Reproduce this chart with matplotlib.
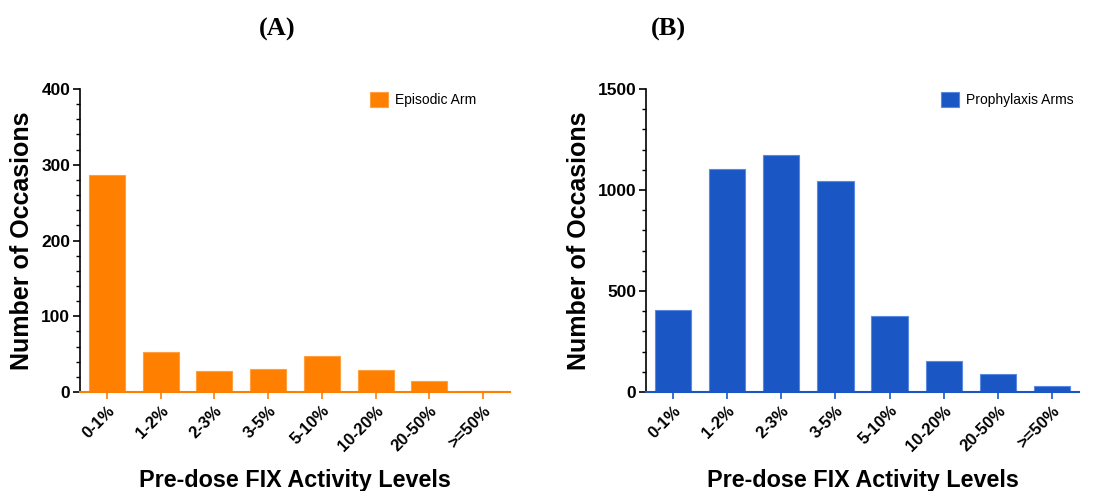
import matplotlib.pyplot as plt
import numpy as np
from matplotlib.ticker import MultipleLocator

plt.rcParams["font.family"] = ["Liberation Sans", "DejaVu Sans"]

# data
levels = ["0-1%", "1-2%", "2-3%", "3-5%", "5-10%", "10-20%", "20-50%", ">=50%"]
episodic = [287, 53, 28, 31, 48, 29, 15, 1.5]
prophylaxis = [407, 1104, 1172, 1046, 378, 153, 88, 31]

fig = plt.figure(figsize=(10.97, 4.91), dpi=100)

panels = [
    # rect, values, color, edge, label, ymax, major, minor, title, title x, legend x
    ([0.0729, 0.2016, 0.392, 0.6171], episodic, "#FF8000", "#FFA040",
     "Episodic Arm", 400, 100, 20, "(A)", 0.253, 0.935),
    ([0.5889, 0.2016, 0.3947, 0.6171], prophylaxis, "#1A57C4", "#5A8AE0",
     "Prophylaxis Arms", 1500, 500, 100, "(B)", 0.609, 1.0),
]

x = np.arange(len(levels))
for rect, vals, col, edge, lab, ymax, major, minor, title, tx, lx in panels:
    ax = fig.add_axes(rect)
    ax.bar(x, vals, width=0.67, color=col, edgecolor=edge, linewidth=0.8, label=lab)
    ax.set_xlim(-0.5, 7.5)
    ax.set_ylim(0, ymax)
    ax.yaxis.set_major_locator(MultipleLocator(major))
    ax.yaxis.set_minor_locator(MultipleLocator(minor))
    ax.set_xticks(x)
    ax.set_xticklabels(levels, rotation=45, ha="right", rotation_mode="anchor",
                       fontsize=12, fontweight="bold")
    for t in ax.get_yticklabels():
        t.set_fontweight("bold")
        t.set_fontsize(12.5)
    ax.spines["top"].set_visible(False)
    ax.spines["right"].set_visible(False)
    ax.spines["bottom"].set_color(col)
    ax.spines["bottom"].set_linewidth(1.5)
    ax.spines["left"].set_linewidth(1.2)
    ax.tick_params(axis="x", colors=col, length=5, width=1.2, labelcolor="black", pad=3)
    ax.tick_params(axis="y", which="major", length=5, width=1.2, pad=2)
    ax.tick_params(axis="y", which="minor", length=3, width=1)
    ax.set_ylabel("Number of Occasions", fontsize=18, fontweight="bold", labelpad=5)
    ax.set_xlabel("Pre-dose FIX Activity Levels", fontsize=16.8, fontweight="bold", labelpad=11)
    ax.legend(loc="upper right", frameon=False, fontsize=10, handlelength=1.3,
              handleheight=1.3, handletextpad=0.5, borderaxespad=0.0,
              bbox_to_anchor=(lx, 1.01))
    fig.text(tx, 0.94, title, fontsize=19, fontweight="bold",
             family=["Liberation Serif", "DejaVu Serif"], ha="center", va="center")

fig.savefig("out.png", dpi=100)
